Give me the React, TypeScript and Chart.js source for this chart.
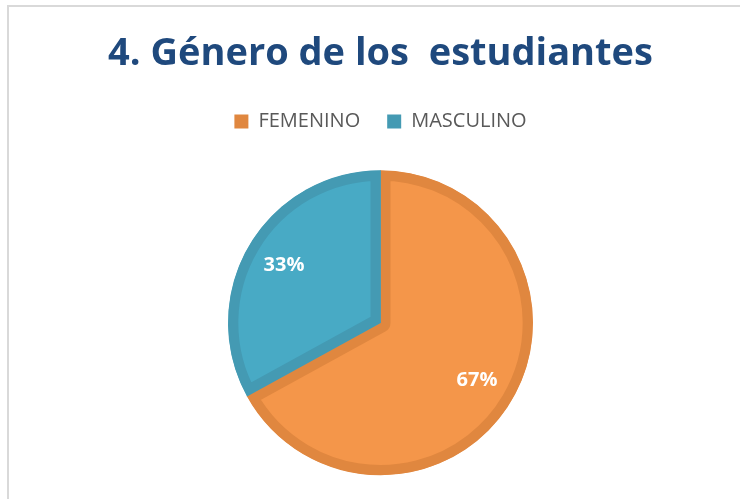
import React, { useEffect, useRef } from "react";
import { Chart, registerables } from "chart.js";

Chart.register(...registerables);

const categories = ["FEMENINO", "MASCULINO"];
const values = [67, 33];
const fillColors = ["#F4964A", "#48AAC5"];
const edgeColors = ["#E0873F", "#449AB3"];
const titleText = "4. Género de los  estudiantes";

const pieLabels = {
  id: "pieLabels",
  afterDatasetsDraw(chart: any) {
    const ctx = chart.ctx;
    const meta = chart.getDatasetMeta(0);
    const data = chart.data.datasets[0].data as number[];
    const total = data.reduce((a, b) => a + b, 0);
    ctx.save();
    ctx.fillStyle = "#FFFFFF";
    ctx.font = "bold 20px 'Open Sans'";
    ctx.textAlign = "center";
    ctx.textBaseline = "middle";
    meta.data.forEach((arc: any, i: number) => {
      const p = arc.getProps(["x", "y", "startAngle", "endAngle", "outerRadius"], true);
      const mid = (p.startAngle + p.endAngle) / 2;
      const r = p.outerRadius * 0.735;
      const txt = Math.round((data[i] / total) * 100) + "%";
      ctx.fillText(txt, p.x + Math.cos(mid) * r, p.y + Math.sin(mid) * r);
    });
    ctx.restore();
  },
};

export default function App() {
  const ref = useRef<HTMLCanvasElement | null>(null);
  useEffect(() => {
    if (!ref.current) return;
    const chart = new Chart(ref.current, {
      type: "pie",
      data: {
        labels: categories,
        datasets: [
          {
            data: values,
            backgroundColor: fillColors,
            borderColor: edgeColors,
            borderWidth: 10,
            hoverBorderWidth: 10,
            borderAlign: "inner",
            hoverOffset: 0,
          } as any,
        ],
      },
      options: {
        responsive: false,
        animation: false,
        radius: 152.5,
        layout: { padding: { left: 21, right: 0, top: 0, bottom: 0 } },
        plugins: {
          title: {
            display: true,
            text: titleText,
            color: "#1F497D",
            font: { family: "'Open Sans'", size: 38, weight: "bold" },
            padding: { top: 31, bottom: 8 },
          },
          legend: {
            display: true,
            position: "top",
            labels: {
              color: "#595959",
              font: { family: "'Open Sans'", size: 20 },
              boxWidth: 14,
              boxHeight: 14,
              padding: 27,
              generateLabels: (c: any) =>
                c.data.labels.map((l: string, i: number) => ({
                  text: l,
                  fillStyle: edgeColors[i],
                  strokeStyle: edgeColors[i],
                  lineWidth: 0,
                  fontColor: "#595959",
                  hidden: false,
                  index: i,
                })),
            },
          },
          tooltip: { enabled: false },
        },
      } as any,
      plugins: [pieLabels],
    });
    return () => chart.destroy();
  }, []);
  return (
    <div style={{ position: "fixed", left: 0, top: 0, width: 740, height: 499, overflow: "hidden", background: "#fff" }}>
      <div
        style={{
          position: "absolute",
          left: 7,
          top: 5,
          width: 800,
          height: 600,
          border: "2px solid #D9D9D9",
        }}
      />
      <canvas ref={ref} width={740} height={504} style={{ position: "absolute", left: 0, top: 0 }} />
    </div>
  );
}
